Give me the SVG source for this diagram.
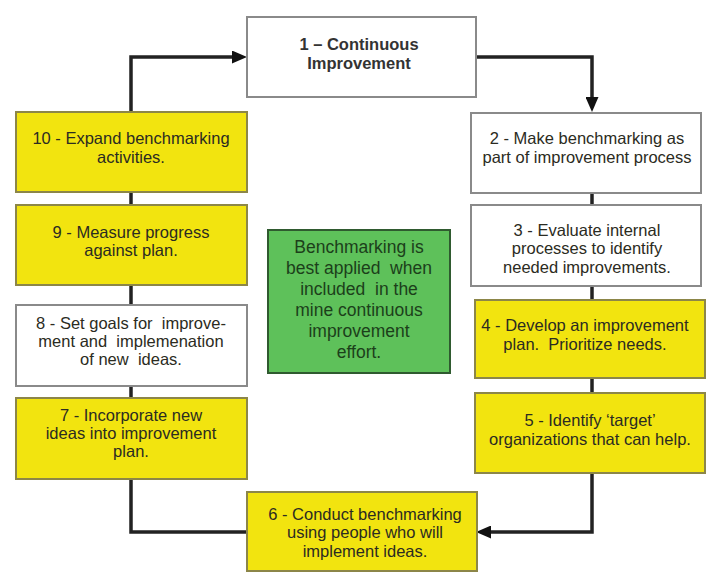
<svg xmlns="http://www.w3.org/2000/svg" width="706" height="573" viewBox="0 0 706 573">
  <defs>
    <style>
      .box { stroke-width: 2; }
      .white { fill: #ffffff; stroke: #8a8a8a; }
      .yellow { fill: #f2e40f; stroke: #8c8648; }
      .green { fill: #5ec15a; stroke: #2f5a2f; }
      text { font-family: "Liberation Sans", Arial, sans-serif; font-size: 16.5px; fill: #2b2b22; text-anchor: middle; white-space: pre; }
      .title { font-weight: bold; fill: #333333; }
      .gtext { fill: #1c3f1a; font-size: 17.5px; }
      .conn { fill: none; stroke: #222222; stroke-width: 3.5; stroke-linejoin: miter; }
    </style>
    <marker id="arrow" markerUnits="userSpaceOnUse" markerWidth="15" markerHeight="13" refX="6" refY="6.5" orient="auto">
      <path d="M0,0 L15,6.5 L0,13 Z" fill="#111111"/>
    </marker>
  </defs>
  <rect width="706" height="573" fill="#ffffff"/>

  <g id="connectors">
    <path class="conn" d="M131,112 V57 H238" marker-end="url(#arrow)"/>
    <path class="conn" d="M476,57 H592 V103" marker-end="url(#arrow)"/>
    <path class="conn" d="M592,473 V532 H485" marker-end="url(#arrow)"/>
    <path class="conn" d="M131,479 V532 H247"/>
    <path class="conn" d="M131,192 V205"/>
    <path class="conn" d="M131,285 V305"/>
    <path class="conn" d="M131,386 V398"/>
    <path class="conn" d="M592,193 V205"/>
    <path class="conn" d="M592,286 V300"/>
    <path class="conn" d="M592,378 V393"/>
  </g>

  <g id="node1">
    <rect class="box white" x="247" y="17" width="229" height="80"/>
    <text class="title" x="359" y="50">1 – Continuous</text>
    <text class="title" x="359" y="69">Improvement</text>
  </g>
  <g id="node2">
    <rect class="box white" x="471" y="113" width="230" height="80"/>
    <text x="587" y="144">2 - Make benchmarking as</text>
    <text x="587" y="163">part of improvement process</text>
  </g>
  <g id="node3">
    <rect class="box white" x="471" y="205" width="230" height="81"/>
    <text x="587" y="236">3 - Evaluate internal</text>
    <text x="587" y="254">processes to identify</text>
    <text x="587" y="273">needed improvements.</text>
  </g>
  <g id="node4">
    <rect class="box yellow" x="475" y="300" width="230" height="78"/>
    <text x="585" y="331">4 - Develop an improvement</text>
    <text x="585" y="350">plan.  Prioritize needs.</text>
  </g>
  <g id="node5">
    <rect class="box yellow" x="475" y="393" width="230" height="80"/>
    <text x="590" y="426">5 - Identify ‘target’</text>
    <text x="590" y="445">organizations that can help.</text>
  </g>
  <g id="node6">
    <rect class="box yellow" x="247" y="492" width="230" height="79"/>
    <text x="365" y="520">6 - Conduct benchmarking</text>
    <text x="365" y="538">using people who will</text>
    <text x="365" y="557">implement ideas.</text>
  </g>
  <g id="node7">
    <rect class="box yellow" x="16" y="398" width="231" height="81"/>
    <text x="131" y="421">7 - Incorporate new</text>
    <text x="131" y="439">ideas into improvement</text>
    <text x="131" y="457">plan.</text>
  </g>
  <g id="node8">
    <rect class="box white" x="16" y="305" width="231" height="81"/>
    <text x="131" y="329">8 - Set goals for  improve-</text>
    <text x="131" y="347">ment and  implemenation</text>
    <text x="131" y="365">of new  ideas.</text>
  </g>
  <g id="node9">
    <rect class="box yellow" x="16" y="205" width="231" height="80"/>
    <text x="131" y="238">9 - Measure progress</text>
    <text x="131" y="256">against plan.</text>
  </g>
  <g id="node10">
    <rect class="box yellow" x="16" y="112" width="231" height="80"/>
    <text x="131" y="144">10 - Expand benchmarking</text>
    <text x="131" y="163">activities.</text>
  </g>
  <g id="note">
    <rect class="box green" x="268" y="230" width="182" height="143"/>
    <text class="gtext" x="359" y="253">Benchmarking is</text>
    <text class="gtext" x="359" y="274">best applied  when</text>
    <text class="gtext" x="359" y="295">included  in the</text>
    <text class="gtext" x="359" y="316">mine continuous</text>
    <text class="gtext" x="359" y="337">improvement</text>
    <text class="gtext" x="359" y="358">effort.</text>
  </g>
</svg>
